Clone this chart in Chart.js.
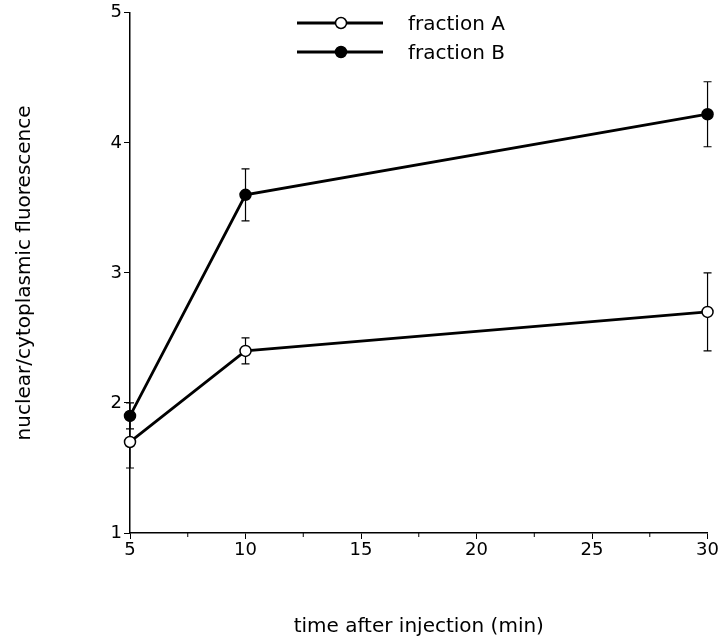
<!DOCTYPE html>
<html><head><meta charset="utf-8">
<script src="https://cdn.jsdelivr.net/npm/chart.js@4"></script>
<style>html,body{margin:0;padding:0;background:#fff}#wrap{width:720px;height:640px}</style>
</head><body><div id="wrap"><canvas id="c" width="720" height="640"></canvas></div>
<script>
const times = [5, 10, 30];
const fractionA = [1.7, 2.4, 2.7];
const fractionAErr = [0.2, 0.1, 0.3];
const fractionB = [1.9, 3.6, 4.22];
const fractionBErr = [0.1, 0.2, 0.25];
const seriesNames = ['fraction A', 'fraction B'];
const xTitle = 'time after injection (min)';
const yTitle = 'nuclear/cytoplasmic fluorescence';
const FONT = "'DejaVu Sans', sans-serif";

const errs = [fractionAErr, fractionBErr];

const errorBarPlugin = {
  id: 'errbars',
  beforeDatasetsDraw(chart) {
    const ctx = chart.ctx, xs = chart.scales.x, ys = chart.scales.y;
    ctx.save();
    ctx.strokeStyle = '#000'; ctx.lineWidth = 1.2;
    chart.data.datasets.forEach((ds, i) => {
      ds.data.forEach((p, j) => {
        const e = errs[i][j];
        const x = xs.getPixelForValue(p.x);
        const y1 = ys.getPixelForValue(p.y + e), y2 = ys.getPixelForValue(p.y - e);
        ctx.beginPath();
        ctx.moveTo(x, y1); ctx.lineTo(x, y2);
        ctx.moveTo(x - 4, y1); ctx.lineTo(x + 4, y1);
        ctx.moveTo(x - 4, y2); ctx.lineTo(x + 4, y2);
        ctx.stroke();
      });
    });
    ctx.lineWidth = 1;
    const yb = ys.getPixelForValue(1);
    for (let v = 7.5; v < 30; v += 5) {
      const x = xs.getPixelForValue(v);
      ctx.beginPath(); ctx.moveTo(x, yb); ctx.lineTo(x, yb + 4); ctx.stroke();
    }
    ctx.restore();
  },
  afterDraw(chart) {
    const ctx = chart.ctx;
    ctx.save();
    const rows = [{y: 23, fill: '#fff'}, {y: 52, fill: '#000'}];
    rows.forEach((r, i) => {
      ctx.strokeStyle = '#000'; ctx.lineWidth = 2.8;
      ctx.beginPath(); ctx.moveTo(297, r.y); ctx.lineTo(383, r.y); ctx.stroke();
      ctx.beginPath(); ctx.arc(341, r.y, 5.5, 0, Math.PI * 2);
      ctx.fillStyle = r.fill; ctx.fill(); ctx.lineWidth = 1.5; ctx.stroke();
      ctx.fillStyle = '#000'; ctx.font = '20px ' + FONT;
      ctx.textBaseline = 'middle'; ctx.textAlign = 'left';
      ctx.fillText(seriesNames[i], 408, r.y + 2);
    });
    ctx.restore();
  }
};

new Chart(document.getElementById('c'), {
  type: 'line',
  data: {
    datasets: [
      {label: seriesNames[0], data: times.map((t, i) => ({x: t, y: fractionA[i]})),
       borderColor: '#000', borderWidth: 2.8, pointBackgroundColor: '#fff', pointBorderColor: '#000',
       pointBorderWidth: 1.5, pointRadius: 5.5, tension: 0},
      {label: seriesNames[1], data: times.map((t, i) => ({x: t, y: fractionB[i]})),
       borderColor: '#000', borderWidth: 2.8, pointBackgroundColor: '#000', pointBorderColor: '#000',
       pointBorderWidth: 1.5, pointRadius: 5.5, tension: 0}
    ]
  },
  options: {
    responsive: false, animation: false, clip: false,
    layout: {padding: {left: 0, right: 11, top: 8, bottom: 0}},
    plugins: {legend: {display: false}, tooltip: {enabled: false}},
    scales: {
      x: {type: 'linear', min: 5, max: 30,
          afterFit(s) { s.height = 107; },
          ticks: {stepSize: 5, color: '#000', font: {family: FONT, size: 18}, padding: 1},
          grid: {drawOnChartArea: false, drawTicks: true, tickLength: 6, color: '#000'},
          border: {display: true, color: '#000', width: 1.5},
          title: {display: true, text: xTitle, color: '#000', font: {family: FONT, size: 20}, padding: {top: 0, bottom: 1}}},
      y: {type: 'linear', min: 1, max: 5,
          afterFit(s) { s.width = 130; },
          ticks: {stepSize: 1, color: '#000', font: {family: FONT, size: 18}, padding: 2},
          grid: {drawOnChartArea: false, drawTicks: true, tickLength: 6, color: '#000'},
          border: {display: true, color: '#000', width: 1.5},
          title: {display: true, text: yTitle, color: '#000', font: {family: FONT, size: 20}, padding: {top: 13, bottom: 0}}}
    }
  },
  plugins: [errorBarPlugin]
});
</script></body></html>
